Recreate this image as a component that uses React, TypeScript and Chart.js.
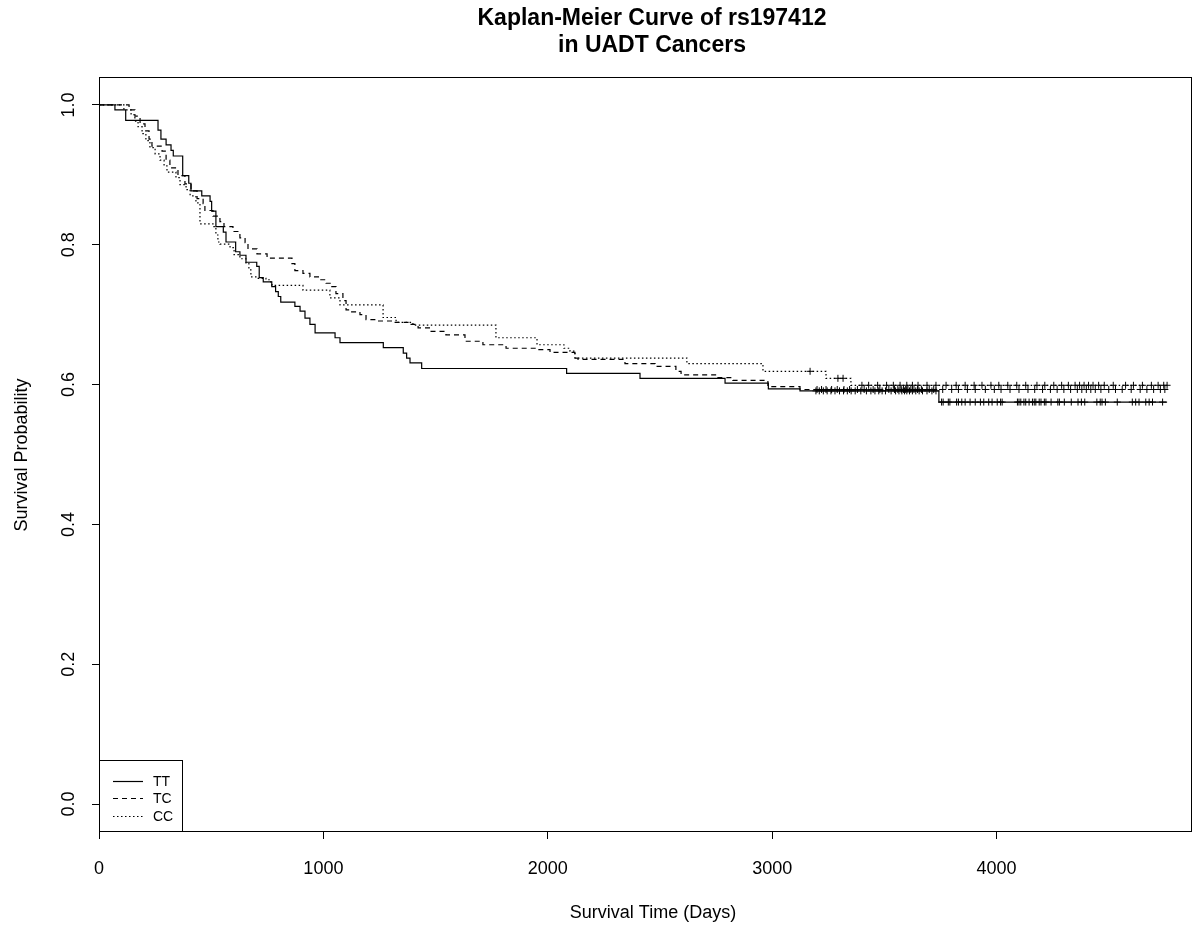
import React, { useEffect, useRef } from "react";
import { Chart, registerables } from "chart.js";

Chart.register(...registerables);

const FONT = '"Liberation Sans", Arial, Helvetica, sans-serif';

const titleLines = ["Kaplan-Meier Curve of rs197412", "in UADT Cancers"];
const xAxisTitle = "Survival Time (Days)";
const yAxisTitle = "Survival Probability";
const xTickValues = [0, 1000, 2000, 3000, 4000];
const yTickValues = [0, 0.2, 0.4, 0.6, 0.8, 1.0];
const groupNames = ["TT", "TC", "CC"];

// TT (solid)
const ttTimes = [0, 71, 119, 263, 276, 299, 321, 331, 373, 400, 410, 458, 495, 502, 521, 554, 566, 609, 628, 655, 703, 714, 732, 770, 787, 799, 810, 873, 896, 918, 940, 963, 1052, 1074, 1267, 1356, 1371, 1386, 1438, 2084, 2411, 2790, 2983, 3124, 3743, 4760];
const ttSurv = [1.0, 0.993, 0.978, 0.964, 0.951, 0.943, 0.935, 0.927, 0.899, 0.888, 0.877, 0.87, 0.862, 0.848, 0.826, 0.818, 0.804, 0.79, 0.785, 0.775, 0.769, 0.753, 0.747, 0.74, 0.733, 0.726, 0.718, 0.712, 0.705, 0.695, 0.686, 0.674, 0.667, 0.66, 0.653, 0.645, 0.638, 0.631, 0.623, 0.616, 0.609, 0.602, 0.594, 0.591, 0.575, 0.575];
const ttCensor = [3195, 3210, 3228, 3245, 3262, 3280, 3300, 3318, 3335, 3352, 3370, 3395, 3420, 3440, 3458, 3475, 3490, 3505, 3530, 3550, 3565, 3578, 3590, 3600, 3612, 3625, 3640, 3655, 3670, 3690, 3712, 3730, 3755, 3762, 3785, 3792, 3822, 3830, 3845, 3860, 3882, 3905, 3928, 3943, 3965, 3980, 4003, 4018, 4025, 4093, 4100, 4108, 4122, 4130, 4145, 4160, 4168, 4175, 4190, 4198, 4213, 4220, 4243, 4273, 4280, 4302, 4333, 4363, 4378, 4393, 4447, 4462, 4470, 4485, 4538, 4605, 4620, 4635, 4665, 4680, 4695, 4740];

// TC (dashed)
const tcTimes = [0, 134, 160, 183, 205, 223, 236, 281, 299, 316, 352, 383, 410, 437, 464, 472, 508, 539, 557, 597, 628, 651, 664, 704, 749, 860, 873, 909, 940, 985, 1012, 1034, 1056, 1087, 1101, 1119, 1163, 1190, 1234, 1310, 1377, 1422, 1480, 1546, 1631, 1711, 1814, 1947, 2010, 2121, 2135, 2344, 2478, 2571, 2594, 2754, 2825, 2981, 3124, 4760];
const tcSurv = [1.0, 0.993, 0.984, 0.973, 0.963, 0.951, 0.941, 0.934, 0.921, 0.91, 0.899, 0.887, 0.877, 0.866, 0.859, 0.849, 0.841, 0.833, 0.826, 0.819, 0.81, 0.803, 0.794, 0.787, 0.781, 0.773, 0.763, 0.759, 0.754, 0.75, 0.745, 0.74, 0.73, 0.72, 0.707, 0.704, 0.7, 0.693, 0.691, 0.689, 0.686, 0.681, 0.676, 0.671, 0.662, 0.657, 0.652, 0.65, 0.646, 0.638, 0.636, 0.63, 0.626, 0.619, 0.614, 0.61, 0.606, 0.597, 0.593, 0.593];
const tcCensor = [3200, 3220, 3240, 3265, 3290, 3320, 3345, 3380, 3410, 3450, 3480, 3520, 3545, 3560, 3575, 3585, 3595, 3605, 3618, 3632, 3648, 3665, 3700, 3720, 3760, 3800, 3830, 3870, 3905, 3950, 3990, 4020, 4060, 4100, 4140, 4170, 4205, 4240, 4270, 4300, 4330, 4360, 4380, 4400, 4420, 4440, 4465, 4500, 4530, 4560, 4600, 4640, 4670, 4700, 4730, 4750];

// CC (dotted)
const ccTimes = [0, 111, 143, 160, 174, 192, 209, 227, 250, 272, 290, 303, 343, 361, 388, 406, 432, 450, 508, 521, 530, 539, 584, 602, 628, 655, 668, 677, 704, 744, 762, 771, 909, 1029, 1074, 1266, 1324, 1399, 1769, 1952, 2072, 2099, 2121, 2620, 2959, 3240, 3351, 4760];
const ccSurv = [1.0, 0.993, 0.986, 0.977, 0.969, 0.959, 0.949, 0.939, 0.93, 0.921, 0.913, 0.904, 0.896, 0.886, 0.879, 0.87, 0.86, 0.83, 0.826, 0.814, 0.804, 0.801, 0.796, 0.786, 0.78, 0.773, 0.764, 0.754, 0.752, 0.75, 0.747, 0.742, 0.735, 0.724, 0.714, 0.696, 0.689, 0.685, 0.667, 0.657, 0.652, 0.648, 0.638, 0.63, 0.619, 0.609, 0.599, 0.599];
const ccCensor = [3169, 3293, 3316, 3400, 3430, 3470, 3510, 3540, 3570, 3600, 3625, 3650, 3690, 3730, 3775, 3820, 3860, 3900, 3935, 3975, 4010, 4050, 4090, 4130, 4180, 4215, 4255, 4290, 4320, 4350, 4370, 4390, 4410, 4430, 4455, 4480, 4520, 4575, 4610, 4650, 4690, 4720, 4745, 4760];

const lineDashes: number[][] = [[], [5, 4], [1.5, 2.5]];

function levelAt(times: number[], surv: number[], t: number) {
  let s = surv[0];
  for (let i = 0; i < times.length; i++) {
    if (times[i] <= t) s = surv[i];
    else break;
  }
  return s;
}

const decorPlugin = {
  id: "decor",
  afterDraw(chart: any) {
    const { ctx, chartArea: a } = chart;
    ctx.save();
    ctx.strokeStyle = "#000";
    ctx.lineWidth = 1;
    ctx.setLineDash([]);
    ctx.strokeRect(a.left + 0.5, a.top + 0.5, a.right - a.left - 1, a.bottom - a.top - 1);

    ctx.fillStyle = "#000";
    ctx.textAlign = "center";
    ctx.textBaseline = "middle";
    ctx.font = `bold 23px ${FONT}`;
    ctx.fillText(titleLines[0], 652, 19);
    ctx.fillText(titleLines[1], 652, 46);

    ctx.font = `18px ${FONT}`;
    ctx.fillText(xAxisTitle, 653, 913);
    ctx.save();
    ctx.translate(22, 455);
    ctx.rotate(-Math.PI / 2);
    ctx.fillText(yAxisTitle, 0, 0);
    ctx.restore();

    // legend box (bottom-left inside plot)
    const lx = a.left, ly = 760, rx = 182, by = a.bottom;
    ctx.strokeRect(lx + 0.5, ly + 0.5, rx - lx, by - ly - 1);
    const rows = [781, 798, 816];
    ctx.font = `14px ${FONT}`;
    ctx.textAlign = "left";
    groupNames.forEach((name, i) => {
      ctx.beginPath();
      ctx.setLineDash(lineDashes[i]);
      ctx.lineWidth = 1.2;
      ctx.moveTo(113, rows[i] + 0.5);
      ctx.lineTo(143, rows[i] + 0.5);
      ctx.stroke();
      ctx.setLineDash([]);
      ctx.fillText(name, 153, rows[i] + 1);
    });
    ctx.restore();
  },
};

export default function App() {
  const canvasRef = useRef<HTMLCanvasElement | null>(null);

  useEffect(() => {
    if (!canvasRef.current) return;
    const groups = [
      { times: ttTimes, surv: ttSurv, censor: ttCensor },
      { times: tcTimes, surv: tcSurv, censor: tcCensor },
      { times: ccTimes, surv: ccSurv, censor: ccCensor },
    ];
    const datasets: any[] = [];
    groups.forEach((g, i) => {
      datasets.push({
        label: groupNames[i],
        data: g.times.map((t, k) => ({ x: t, y: g.surv[k] })),
        showLine: true,
        stepped: "before",
        borderColor: "#000",
        borderWidth: 1.2,
        borderDash: lineDashes[i],
        pointRadius: 0,
        fill: false,
      });
    });
    groups.forEach((g, i) => {
      datasets.push({
        label: groupNames[i] + " censored",
        data: g.censor.map((t) => ({ x: t, y: levelAt(g.times, g.surv, t) })),
        showLine: false,
        pointStyle: "cross",
        pointRadius: 3.5,
        borderColor: "#000",
        backgroundColor: "#000",
        borderWidth: 1,
      });
    });

    const chart = new Chart(canvasRef.current, {
      type: "scatter",
      data: { datasets },
      options: {
        animation: false,
        responsive: false,
        devicePixelRatio: 1,
        events: [],
        layout: { autoPadding: false, padding: { top: 77, right: 2, left: 0, bottom: 0 } },
        plugins: { legend: { display: false }, title: { display: false }, tooltip: { enabled: false } },
        scales: {
          x: {
            type: "linear",
            min: 0,
            max: 4871,
            afterBuildTicks: (scale: any) => {
              scale.ticks = xTickValues.map((v) => ({ value: v }));
            },
            afterFit: (scale: any) => {
              scale.height = 97;
              scale.paddingLeft = 0;
              scale.paddingRight = 0;
            },
            border: { display: false },
            grid: { display: true, drawOnChartArea: false, drawTicks: true, tickLength: 7, color: "#000", lineWidth: 1 },
            ticks: {
              includeBounds: false,
              autoSkip: false,
              maxRotation: 0,
              color: "#000",
              padding: 19,
              font: { family: FONT, size: 18 },
              callback: (v: any) => String(v),
            },
          },
          y: {
            type: "linear",
            min: -0.04,
            max: 1.04,
            afterBuildTicks: (scale: any) => {
              scale.ticks = yTickValues.map((v) => ({ value: v }));
            },
            afterFit: (scale: any) => {
              scale.width = 99;
              scale.paddingTop = 0;
              scale.paddingBottom = 0;
            },
            border: { display: false },
            grid: { display: true, drawOnChartArea: false, drawTicks: true, tickLength: 7, color: "#000", lineWidth: 1 },
            ticks: {
              includeBounds: false,
              autoSkip: false,
              minRotation: 90,
              maxRotation: 90,
              crossAlign: "center",
              padding: 10,
              color: "#000",
              font: { family: FONT, size: 18 },
              callback: (v: any) => Number(v).toFixed(1),
            },
          },
        },
      },
      plugins: [decorPlugin],
    } as any);

    return () => chart.destroy();
  }, []);

  return (
    <div style={{ position: "fixed", left: 0, top: 0, width: 1194, height: 929, background: "#fff" }}>
      <canvas ref={canvasRef} width={1194} height={929} style={{ width: 1194, height: 929, display: "block" }} />
    </div>
  );
}
